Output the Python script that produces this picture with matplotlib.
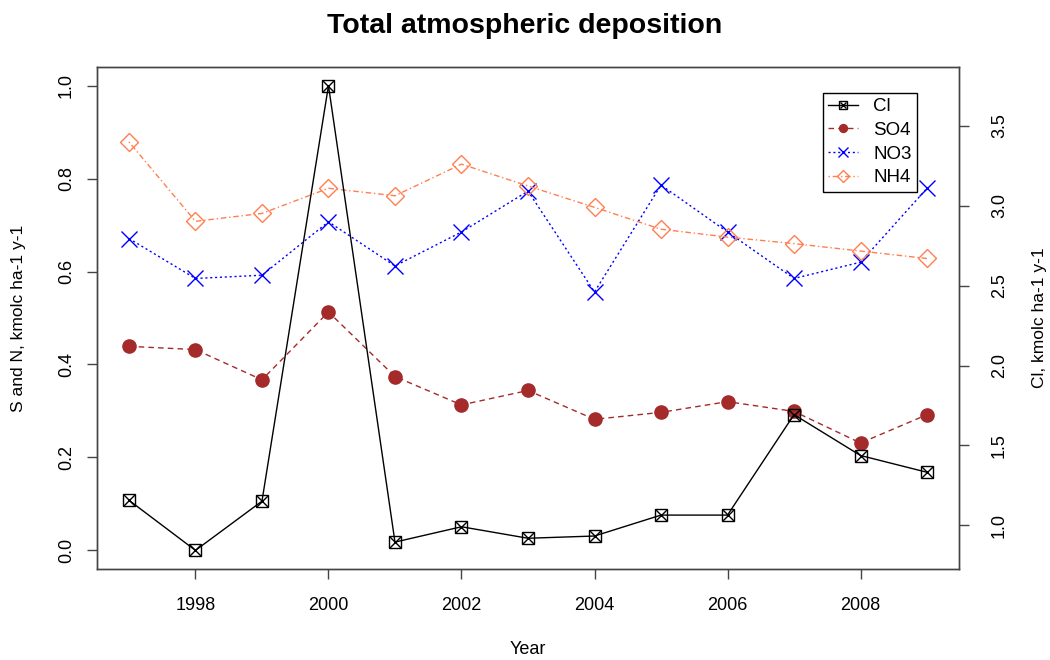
import numpy as np
import matplotlib.pyplot as plt
from matplotlib.legend_handler import HandlerTuple

plt.rcParams['font.family'] = ['Liberation Sans', 'DejaVu Sans']

# Data
years = np.arange(1997, 2010)
cl = [1.157, 0.843, 1.151, 3.753, 0.895, 0.991, 0.919, 0.933, 1.064, 1.064, 1.693, 1.437, 1.332]
so4 = [0.439, 0.432, 0.367, 0.513, 0.374, 0.313, 0.344, 0.282, 0.297, 0.320, 0.299, 0.231, 0.292]
no3 = [0.671, 0.585, 0.592, 0.707, 0.612, 0.685, 0.773, 0.556, 0.786, 0.685, 0.585, 0.620, 0.779]
nh4 = [0.879, 0.708, 0.725, 0.779, 0.763, 0.831, 0.784, 0.738, 0.691, 0.674, 0.660, 0.644, 0.628]

xticks = [1998, 2000, 2002, 2004, 2006, 2008]
left_ticks = [0.0, 0.2, 0.4, 0.6, 0.8, 1.0]
right_ticks = [1.0, 1.5, 2.0, 2.5, 3.0, 3.5]

fig = plt.figure(figsize=(10.5, 6.6), dpi=100)
ax = fig.add_axes([0.0924, 0.1379, 0.8209, 0.7606])

l_so4, = ax.plot(years, so4, color='#A52A2A', ls=(0, (4, 3)), lw=1, marker='o', ms=9.5, mec='#A52A2A')
l_no3, = ax.plot(years, no3, color='#0000FF', ls=(0, (1.5, 2)), lw=1, marker='x', ms=11, mew=1)
l_nh4, = ax.plot(years, nh4, color='#FF7F50', ls=(0, (1, 2, 4, 2)), lw=1, marker='D', ms=9.5,
                 mfc='none', mec='#FF7F50', mew=1)

ax.set_xlim(1996.52, 2009.48)
ax.set_ylim(-0.04, 1.04)
ax.set_xticks(xticks)
ax.set_yticks(left_ticks)
ax.set_yticklabels(['0.0', '0.2', '0.4', '0.6', '0.8', '1.0'])
ax.tick_params(axis='both', direction='out', length=7, width=1, labelsize=13, color='#444444')
ax.tick_params(axis='x', pad=13)
ax.tick_params(axis='y', pad=9, labelrotation=90)
for lab in ax.get_yticklabels():
    lab.set_va('center')
ax.set_xlabel('Year', fontsize=13, va='center')
ax.xaxis.set_label_coords(0.5, -0.161)
ax.set_ylabel('S and N, kmolc ha-1 y-1', fontsize=12.5, va='center')
ax.yaxis.set_label_coords(-0.0916, 0.5)

ax2 = ax.twinx()
l_cl_s, = ax2.plot(years, cl, color='black', ls='-', lw=1, marker='s', ms=9, mfc='none', mec='black', mew=1)
l_cl_x, = ax2.plot(years, cl, color='black', ls='none', marker='x', ms=8, mew=1)
lo, hi = min(cl), max(cl)
pad = 0.04 * (hi - lo)
ax2.set_ylim(lo - pad, hi + pad)
ax2.set_yticks(right_ticks)
ax2.set_yticklabels(['1.0', '1.5', '2.0', '2.5', '3.0', '3.5'])
ax2.tick_params(axis='y', direction='out', length=7, width=1, labelsize=13, color='#444444',
                pad=16, labelrotation=90)
for lab in ax2.get_yticklabels():
    lab.set_va('center')
ax2.set_ylabel('Cl, kmolc ha-1 y-1', fontsize=12.5, va='center')
ax2.yaxis.set_label_coords(1.094, 0.5)

for a in (ax, ax2):
    for s in a.spines.values():
        s.set_color('#444444')
        s.set_linewidth(1)

fig.suptitle('Total atmospheric deposition', fontsize=20.5, fontweight='bold', y=0.98)

leg = ax2.legend([(l_cl_s, l_cl_x), l_so4, l_no3, l_nh4], ['Cl', 'SO4', 'NO3', 'NH4'],
                 handler_map={tuple: HandlerTuple(ndivide=1, pad=0)},
                 loc='upper left', bbox_to_anchor=(0.842, 0.949), fontsize=13.5,
                 frameon=True, fancybox=False, edgecolor='black', framealpha=1,
                 handlelength=1.6, handletextpad=0.8, labelspacing=0.35, borderpad=0.3,
                 borderaxespad=0, markerscale=0.6)
leg.get_frame().set_linewidth(1)

fig.savefig('out.png', dpi=100, facecolor='white')
